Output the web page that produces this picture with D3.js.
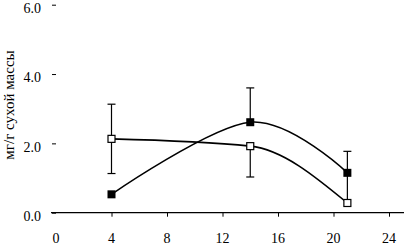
<!DOCTYPE html>
<html><head><meta charset="utf-8">
<script src="https://cdn.jsdelivr.net/npm/d3@7"></script>
<style>body{margin:0;background:#fff}svg{display:block}</style>
</head><body>
<svg id="c" width="404" height="245"></svg>
<script>
const days = [4, 14, 21];
const filledVals = [0.53, 2.61, 1.15];
const openVals = [2.13, 1.92, 0.28];
const filledErrUp = [0, 0.99, 0];
const filledErrDown = [0, 0, 0];
const openErrUp = [1.0, 0, 1.49];
const openErrDown = [1.0, 0.89, 0];
const xTicks = [0, 4, 8, 12, 16, 20, 24];
const yTicks = [0, 2, 4, 6];
const yTickLabels = ["0.0", "2.0", "4.0", "6.0"];
const yTitle = "мг/г сухой массы";

const svg = d3.select("#c");
const x = d3.scaleLinear().domain([0, 24]).range([56, 389]);
const y = d3.scaleLinear().domain([0, 6]).range([212.7, 4.7]);
const font = "'Liberation Serif', 'Times New Roman', Times, serif";

// x axis
const xa = svg.append("g").attr("transform", `translate(0,${y(0)})`)
  .call(d3.axisBottom(x).tickValues(xTicks.filter(d => d > 0)).tickSize(4).tickFormat(""));
xa.select(".domain").remove();
xa.selectAll("line").attr("stroke", "#000");
svg.append("line").attr("x1", 51).attr("x2", 404).attr("y1", y(0)).attr("y2", y(0))
  .attr("stroke", "#000").attr("stroke-width", 1.2);
svg.append("g").selectAll("text").data(xTicks).join("text")
  .attr("x", d => x(d)).attr("y", 242.5).attr("text-anchor", "middle")
  .style("font-family", font).attr("font-size", 14).text(d => d);

// y axis (ticks only, no spine)
const ya = svg.append("g").attr("transform", `translate(56,0)`)
  .call(d3.axisLeft(y).tickValues(yTicks).tickSize(4).tickFormat((d, i) => yTickLabels[i]).tickPadding(11));
ya.select(".domain").remove();
ya.selectAll("line").attr("stroke", "#000");
ya.selectAll("text").style("font-family", font).attr("font-size", 14).attr("fill", "#000")
  .attr("dy", "0.55em");

svg.append("text").attr("transform", `translate(13.5,105) rotate(-90)`)
  .attr("text-anchor", "middle").style("font-family", font).attr("font-size", 15).text(yTitle);

const lineF = d3.line().x(d => x(d[0])).y(d => y(d[1])).curve(d3.curveCardinal.tension(0));
const lineO = d3.line().x(d => x(d[0])).y(d => y(d[1])).curve(d3.curveMonotoneX);
const fData = days.map((d, i) => [d, filledVals[i]]);
const oData = days.map((d, i) => [d, openVals[i]]);

function errBars(vals, up, down) {
  const g = svg.append("g").attr("stroke", "#000").attr("stroke-width", 1.2);
  days.forEach((d, i) => {
    const cx = x(d);
    if (up[i] > 0) {
      g.append("line").attr("x1", cx).attr("x2", cx).attr("y1", y(vals[i])).attr("y2", y(vals[i] + up[i]));
      g.append("line").attr("x1", cx - 4).attr("x2", cx + 4).attr("y1", y(vals[i] + up[i])).attr("y2", y(vals[i] + up[i]));
    }
    if (down[i] > 0) {
      g.append("line").attr("x1", cx).attr("x2", cx).attr("y1", y(vals[i])).attr("y2", y(vals[i] - down[i]));
      g.append("line").attr("x1", cx - 4).attr("x2", cx + 4).attr("y1", y(vals[i] - down[i])).attr("y2", y(vals[i] - down[i]));
    }
  });
}
errBars(openVals, openErrUp, openErrDown);
errBars(filledVals, filledErrUp, filledErrDown);

svg.append("path").datum(oData).attr("d", lineO).attr("fill", "none").attr("stroke", "#000").attr("stroke-width", 1.6);
svg.append("path").datum(fData).attr("d", lineF).attr("fill", "none").attr("stroke", "#000").attr("stroke-width", 1.6);

const s = 8;
svg.append("g").selectAll("rect").data(fData).join("rect")
  .attr("x", d => x(d[0]) - s / 2).attr("y", d => y(d[1]) - s / 2).attr("width", s).attr("height", s)
  .attr("fill", "#000");
svg.append("g").selectAll("rect").data(oData).join("rect")
  .attr("x", d => x(d[0]) - s / 2 + 0.5).attr("y", d => y(d[1]) - s / 2 + 0.5).attr("width", s - 1).attr("height", s - 1)
  .attr("fill", "#fff").attr("stroke", "#000").attr("stroke-width", 1.2);
</script>
</body></html>
